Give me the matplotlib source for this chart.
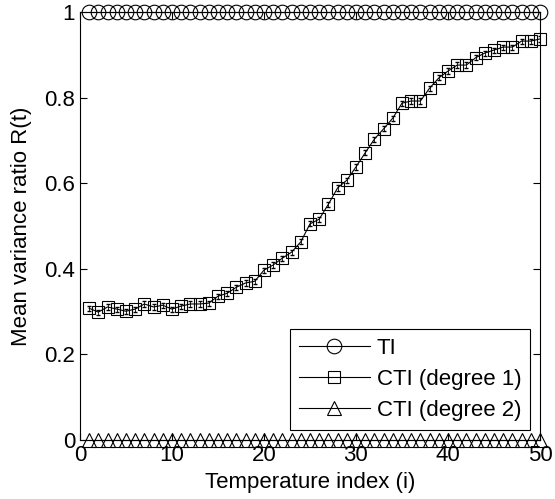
import matplotlib.pyplot as plt
import numpy as np

plt.rcParams['font.family'] = ['Liberation Sans', 'DejaVu Sans']

# temperature index
idx = np.arange(1, 51)

# mean variance ratio
ti = [1.0] * 50
cti1 = [0.308, 0.299, 0.311, 0.306, 0.301, 0.306, 0.318, 0.311, 0.315, 0.306,
        0.313, 0.318, 0.318, 0.320, 0.336, 0.343, 0.357, 0.367, 0.371, 0.397,
        0.409, 0.425, 0.439, 0.463, 0.505, 0.516, 0.551, 0.589, 0.607, 0.638,
        0.671, 0.703, 0.727, 0.752, 0.787, 0.792, 0.792, 0.822, 0.846, 0.862,
        0.876, 0.876, 0.893, 0.904, 0.911, 0.918, 0.918, 0.932, 0.932, 0.937]
cti1_err = [0.006] * 50
cti2 = [0.0] * 50

fig = plt.figure(figsize=(5.55, 4.99), dpi=100)
ax = fig.add_axes([0.144, 0.118, 0.829, 0.858])

ax.plot(idx, ti, c="k", lw=0.8, marker="o", ms=10.5, mfc="none", mec="k",
        mew=0.8, label="TI", clip_on=False, zorder=3)
ax.plot(idx, cti1, c="k", lw=0.8, marker="s", ms=8.5, mfc="none", mec="k",
        mew=0.8, label="CTI (degree 1)", clip_on=False, zorder=3)
ax.errorbar(idx, cti1, yerr=cti1_err, fmt="none", ecolor="k", elinewidth=0.6,
            capsize=1.5, zorder=3)  # small error bars
ax.plot(idx, cti2, c="k", lw=0.8, marker="^", ms=10, mfc="none", mec="k",
        mew=0.8, label="CTI (degree 2)", clip_on=False, zorder=3)

ax.set_xlim(0, 50)
ax.set_ylim(0, 1)
ax.set_xticks([0, 10, 20, 30, 40, 50])
ax.set_yticks([0, 0.2, 0.4, 0.6, 0.8, 1])
ax.set_yticklabels(["0", "0.2", "0.4", "0.6", "0.8", "1"])
ax.tick_params(direction="in", top=True, right=True, labelsize=16, length=5)
ax.set_xlabel("Temperature index (i)", fontsize=16, labelpad=4)
ax.set_ylabel("Mean variance ratio R(t)", fontsize=16, labelpad=9)

leg = ax.legend(loc="lower right", fontsize=16, fancybox=False,
                edgecolor="k", framealpha=1, handlelength=3.2,
                handletextpad=0.3, labelspacing=0.45, borderpad=0.4,
                borderaxespad=0.45)
leg.get_frame().set_linewidth(0.8)

plt.savefig("out.png")
